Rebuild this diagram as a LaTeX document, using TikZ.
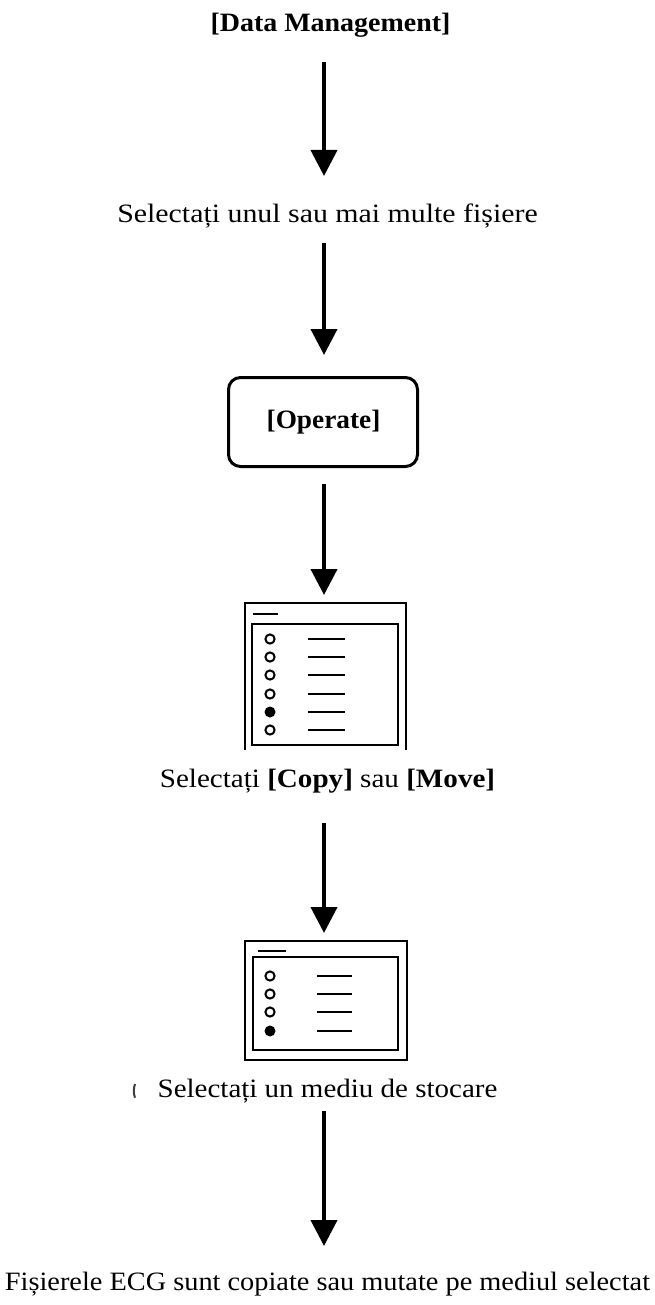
\documentclass[tikz,border=0pt]{standalone}
\usepackage{fontspec}
\setmainfont{Liberation Serif}
\usetikzlibrary{arrows.meta}
\newcommand{\wx}[2]{\scalebox{#1}[1]{#2}}
\begin{document}
\begin{tikzpicture}[x=1pt,y=-1pt,
  txt/.style={inner sep=0pt, anchor=base, font=\fontsize{26.5}{30}\selectfont},
  btxt/.style={inner sep=0pt, anchor=base, font=\fontsize{26.5}{30}\selectfont\bfseries},
  arr/.style={line width=4pt, -{Triangle[width=26pt,length=26pt]}},
  frame/.style={line width=2pt},
  bar/.style={line width=1.6pt},
  radio/.style={line width=2pt, draw=black, fill=white},
  radioon/.style={fill=black}]
\useasboundingbox (0,0) rectangle (654,1305);
\coordinate (axis) at (324,0);

% texts
\node[btxt] (t1) at (330.5,32) {\wx{1.055}{[Data Management]}};
\node[txt] (t2) at (327.5,223) {\wx{1.127}{Selectați unul sau mai multe fișiere}};
\node[draw, line width=3pt, rounded corners=12pt, minimum width=189pt, minimum height=89pt, inner sep=0pt] (op) at (323,422) {};
\node[btxt, anchor=center] (optxt) at (323.5,422) {\wx{1.03}{[Operate]}};
\node[txt] (t3) at (327.5,787) {\wx{1.098}{Selectați \textbf{[Copy]} sau \textbf{[Move]}}};
\node[txt] (t4) at (327.5,1097) {\wx{1.094}{Selectați un mediu de stocare}};
\node[txt] (t5) at (327.5,1290) {\wx{1.069}{Fișierele ECG sunt copiate sau mutate pe mediul selectat}};

% icon 1 (open at bottom)
\node[minimum width=161pt, minimum height=147pt, inner sep=0pt] (ic1) at (325.5,676.5) {};
\draw[frame] (ic1.south west) -- (ic1.north west) -- (ic1.north east) -- (ic1.south east);
\draw[frame] (252,624) rectangle (398,745);
\draw[bar] (253,614) -- (278,614);
\foreach \yy in {639,657,675,694,730} {
  \draw[radio] (270,\yy) circle (4.6pt);
}
\fill[radioon] (270,712) circle (5.5pt);
\foreach \yy in {639,657,675,694,712,730} {
  \draw[bar] (308,\yy) -- (345,\yy);
}

% icon 2
\node[frame, draw, minimum width=162pt, minimum height=119pt, inner sep=0pt] (ic2) at (326,1000.5) {};
\draw[frame] (253,957) rectangle (398,1050);
\draw[bar] (258,951) -- (286,951);
\foreach \yy in {976,994,1012} {
  \draw[radio] (270,\yy) circle (4.6pt);
}
\fill[radioon] (270,1031) circle (5.5pt);
\foreach \yy in {976,994,1012,1031} {
  \draw[bar] (317,\yy) -- (352,\yy);
}

% small stray mark
\draw[line width=2pt, black!75] (135,1084) arc[start angle=160, end angle=200, radius=20pt];

% arrows
\draw[arr] (axis |- 0,62) -- (axis |- 0,176);
\draw[arr] (axis |- 0,243) -- (axis |- 0,355);
\draw[arr] (axis |- 0,484) -- (axis |- 0,595);
\draw[arr] (axis |- 0,823) -- (axis |- 0,933);
\draw[arr] (axis |- 0,1111) -- (axis |- 0,1246);
\end{tikzpicture}
\end{document}
